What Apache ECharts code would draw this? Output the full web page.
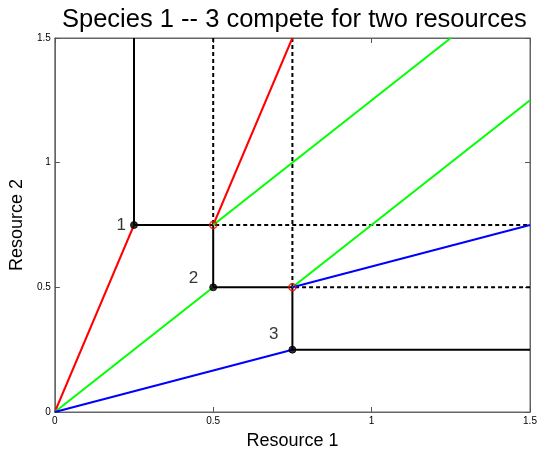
<!DOCTYPE html>
<html><head><meta charset="utf-8">
<script src="https://cdn.jsdelivr.net/npm/echarts@6/dist/echarts.min.js"></script>
<style>html,body{margin:0;padding:0;background:#fff}#c{width:540px;height:455px}</style>
</head><body><div id="c"></div>
<script>
const titleText = 'Species 1 -- 3 compete for two resources';
const xName = 'Resource 1';
const yName = 'Resource 2';
const axisMin = 0, axisMax = 1.5, axisStep = 0.5;

// Zero net growth isoclines (solid black)
const zngi1 = [[0.25, 1.5], [0.25, 0.75], [0.5, 0.75]];
const zngi2 = [[0.5, 0.75], [0.5, 0.5], [0.75, 0.5]];
const zngi3 = [[0.75, 0.5], [0.75, 0.25], [1.5, 0.25]];
// Dashed extensions
const dashA = [[0.5, 1.5], [0.5, 0.75], [1.5, 0.75]];
const dashB = [[0.75, 1.5], [0.75, 0.5], [1.5, 0.5]];
// Consumption vectors
const red1 = [[0, 0], [0.25, 0.75]];
const red2 = [[0.5, 0.75], [0.75, 1.5]];
const green1 = [[0, 0], [0.5, 0.5]];
const green2 = [[0.5, 0.75], [1.25, 1.5]];
const green3 = [[0.75, 0.5], [1.5, 1.25]];
const blue1 = [[0, 0], [0.75, 0.25]];
const blue2 = [[0.75, 0.5], [1.5, 0.75]];
// Points
const blackPts = [[0.25, 0.75], [0.5, 0.5], [0.75, 0.25]];
const redPts = [[0.5, 0.75], [0.75, 0.5]];
const speciesLabels = ['1', '2', '3'];

const FONT = 'Liberation Sans, Arial, Helvetica, sans-serif';

function lineSeries(data, color, type) {
  return {
    type: 'line', data: data, symbol: 'none', silent: true, animation: false,
    lineStyle: { color: color, width: 2, type: type || 'solid' }, z: 2
  };
}

const labelOffsets = [[-2, 0], [-9, -9], [-8, -15]];

const tickStyle = { show: true, inside: true, length: 5, lineStyle: { color: '#555', width: 1 } };
const lineStyleAxis = { show: true, onZero: false, lineStyle: { color: '#666', width: 1 } };

const chart = echarts.init(document.getElementById('c'), null, { renderer: 'canvas' });
chart.setOption({
  animation: false,
  backgroundColor: '#fff',
  title: {
    text: titleText, left: 57, top: 2,
    textStyle: { fontFamily: FONT, fontSize: 25.5, fontWeight: 'normal', color: '#000' }
  },
  grid: { left: 53, right: 10, top: 38, bottom: 43, show: true, borderColor: '#666', borderWidth: 1, backgroundColor: 'transparent' },
  xAxis: [{
    type: 'value', min: axisMin, max: axisMax, interval: axisStep, position: 'bottom',
    name: xName, nameLocation: 'middle', nameGap: 20,
    nameTextStyle: { fontFamily: FONT, fontSize: 18, color: '#000' },
    axisLine: lineStyleAxis, axisTick: tickStyle,
    axisLabel: { fontFamily: FONT, fontSize: 10, color: '#000', margin: 4 },
    splitLine: { show: false }
  }, {
    type: 'value', min: axisMin, max: axisMax, interval: axisStep, position: 'top',
    axisLine: lineStyleAxis, axisTick: tickStyle,
    axisLabel: { show: false }, splitLine: { show: false }
  }],
  yAxis: [{
    type: 'value', min: axisMin, max: axisMax, interval: axisStep, position: 'left',
    name: yName, nameLocation: 'middle', nameGap: 17,
    nameTextStyle: { fontFamily: FONT, fontSize: 18, color: '#000' },
    axisLine: lineStyleAxis, axisTick: tickStyle,
    axisLabel: { fontFamily: FONT, fontSize: 10, color: '#000', margin: 4 },
    splitLine: { show: false }
  }, {
    type: 'value', min: axisMin, max: axisMax, interval: axisStep, position: 'right',
    axisLine: lineStyleAxis, axisTick: tickStyle,
    axisLabel: { show: false }, splitLine: { show: false }
  }],
  series: [
    { type: 'line', xAxisIndex: 1, yAxisIndex: 1, data: [], symbol: 'none', silent: true },
    lineSeries(dashA, '#000', [4, 3]),
    lineSeries(dashB, '#000', [4, 3]),
    lineSeries(zngi1, '#000'),
    lineSeries(zngi2, '#000'),
    lineSeries(zngi3, '#000'),
    lineSeries(red1, '#ff0000'),
    lineSeries(red2, '#ff0000'),
    lineSeries(green1, '#00ff00'),
    lineSeries(green2, '#00ff00'),
    lineSeries(green3, '#00ff00'),
    lineSeries(blue1, '#0000ff'),
    lineSeries(blue2, '#0000ff'),
    {
      type: 'scatter', silent: true, z: 5,
      data: blackPts.map((p, i) => ({
        value: p,
        label: {
          show: true, formatter: speciesLabels[i], position: 'left',
          offset: labelOffsets[i], distance: 2,
          fontFamily: FONT, fontSize: 17, color: '#000'
        }
      })),
      symbol: 'circle', symbolSize: 7,
      itemStyle: { color: '#000', borderColor: '#000', borderWidth: 1 }
    },
    {
      type: 'scatter', silent: true, z: 5,
      data: redPts, symbol: 'circle', symbolSize: 7,
      itemStyle: { color: 'rgba(0,0,0,0)', borderColor: '#ff0000', borderWidth: 1.5 }
    }
  ]
});
</script></body></html>
